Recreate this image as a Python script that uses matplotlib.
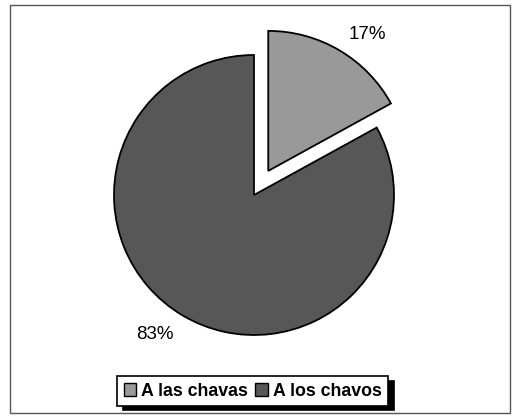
import numpy as np
import matplotlib
matplotlib.use("Agg")
import matplotlib.pyplot as plt
from matplotlib.patches import Rectangle, Patch

plt.rcParams['font.family'] = ['Liberation Sans', 'DejaVu Sans']

categories = ["A las chavas", "A los chavos"]
values = [17, 83]
colors = ["#999999", "#575757"]
explode = [0.2, 0.0]

W, H = 512, 417
fig = plt.figure(figsize=(W / 100, H / 100), dpi=100)
fig.patch.set_facecolor("white")

# chart frame
fig.add_artist(Rectangle((10 / W, 4 / H), 500 / W, 408 / H,
                         transform=fig.transFigure, fill=False,
                         edgecolor="#555555", linewidth=1.0))

# pie axes: center at (254,195) px, radius 140 px
R = 140
L = 1.4
side = 2 * L * R
cx, cy = 254, 195
ax = fig.add_axes([(cx - side / 2) / W, (H - cy - side / 2) / H, side / W, side / H])

wedges, _ = ax.pie(values, colors=colors, explode=explode, startangle=90,
                   counterclock=False, radius=1.0,
                   wedgeprops=dict(edgecolor="black", linewidth=1.3))
ax.set_xlim(-L, L)
ax.set_ylim(-L, L)
ax.set_aspect("auto")
ax.axis("off")

# percentage labels outside each wedge
label_dist = [1.4, 1.22]
label_shift = [-4.6, -4.7]
total = sum(values)
for w, v, d, s in zip(wedges, values, label_dist, label_shift):
    mid = np.deg2rad((w.theta1 + w.theta2) / 2 + s)
    ax.text(d * np.cos(mid), d * np.sin(mid), f"{round(100 * v / total)}%",
            ha="center", va="center", fontsize=13.5, color="black")

handles = [Patch(facecolor=c, edgecolor="black", linewidth=1.0) for c in colors]
leg = fig.legend(handles, categories, loc="center", bbox_to_anchor=(0.494, 0.062),
                 ncol=2, frameon=True, fancybox=False, edgecolor="black",
                 framealpha=1, handlelength=0.7, handleheight=0.7,
                 handletextpad=0.3, columnspacing=0.4, borderpad=0.35,
                 prop=dict(weight="bold", size=12.8),
                 shadow=dict(color="black", alpha=1.0, ox=4, oy=-3))
leg.get_frame().set_linewidth(1.2)

fig.savefig("out.png", dpi=100, facecolor="white")
